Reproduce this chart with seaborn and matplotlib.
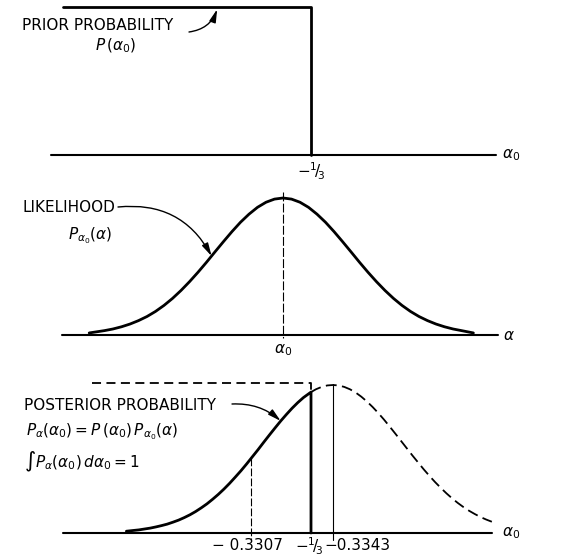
import matplotlib
matplotlib.use("Agg")
import matplotlib.pyplot as plt
import seaborn as sns

# prior probability P(a0): flat, cut off at a0 = -1/3
prior_a0 = [-0.3224, -1/3, -1/3]
prior_p = [1.0, 1.0, 0.0]
axis1_a0 = [-0.3219, -0.3415]

# likelihood P_a0(alpha), alpha measured from a0
lik_alpha = [-2.85, -2.625, -2.5, -2.375, -2.25, -2.125, -2.0, -1.875, -1.75, -1.625,
             -1.5, -1.375, -1.25, -1.125, -1.0, -0.875, -0.75, -0.625, -0.5, -0.375,
             -0.25, -0.125, 0.0, 0.125, 0.25, 0.375, 0.5, 0.625, 0.75, 0.875, 1.0,
             1.125, 1.25, 1.375, 1.5, 1.625, 1.75, 1.875, 2.0, 2.125, 2.25, 2.375,
             2.5, 2.625, 2.8]
lik_p = [0.015, 0.032, 0.044, 0.060, 0.080, 0.105, 0.135, 0.172, 0.216, 0.267,
         0.325, 0.389, 0.458, 0.531, 0.607, 0.682, 0.755, 0.823, 0.882, 0.932,
         0.969, 0.992, 1.0, 0.992, 0.969, 0.932, 0.882, 0.823, 0.755, 0.682, 0.607,
         0.531, 0.458, 0.389, 0.325, 0.267, 0.216, 0.172, 0.135, 0.105, 0.080, 0.060,
         0.044, 0.032, 0.015]
axis2_alpha = [-3.25, 3.16]

# posterior, solid part up to the cut at -1/3
post_a0 = [-0.3252, -0.3255, -0.32575, -0.3260, -0.32625, -0.3265, -0.32675, -0.3270,
           -0.32725, -0.3275, -0.32775, -0.3280, -0.32825, -0.3285, -0.32875, -0.3290,
           -0.32925, -0.3295, -0.32975, -0.3300, -0.33025, -0.3305, -0.33075, -0.3310,
           -0.33125, -0.3315, -0.33175, -0.3320, -0.33225, -0.3325, -0.33275, -0.3330,
           -1/3, -1/3]
post_p = [0.012, 0.017, 0.021, 0.027, 0.033, 0.041, 0.050, 0.060,
          0.073, 0.087, 0.104, 0.123, 0.145, 0.170, 0.197, 0.228,
          0.261, 0.297, 0.336, 0.378, 0.421, 0.467, 0.515, 0.563,
          0.613, 0.662, 0.710, 0.757, 0.801, 0.843, 0.881, 0.915,
          0.952, 0.0]
# dashed continuation beyond the cut
tail_a0 = [-1/3, -0.33355, -0.3338, -0.33405, -0.3343, -0.33455, -0.3348, -0.33505,
           -0.3353, -0.33555, -0.3358, -0.33605, -0.3363, -0.33655, -0.3368, -0.33705,
           -0.3373, -0.33755, -0.3378, -0.33805, -0.3383, -0.33855, -0.3388, -0.33905,
           -0.3393, -0.33955, -0.3398, -0.34005, -0.3403, -0.34055, -0.3408, -0.34105,
           -0.3413]
tail_p = [0.952, 0.971, 0.987, 0.997, 1.0, 0.997, 0.987, 0.971,
          0.949, 0.921, 0.888, 0.851, 0.810, 0.766, 0.719, 0.671,
          0.622, 0.573, 0.524, 0.477, 0.430, 0.386, 0.344, 0.305,
          0.268, 0.234, 0.203, 0.175, 0.150, 0.128, 0.108, 0.091,
          0.076]
# prior outline repeated (dashed) in the bottom panel
prior3_a0 = [-0.3237, -1/3, -1/3]
prior3_p = [1.013, 1.013, 0.952]
axis3_a0 = [-0.3224, -0.3413]

mark_lo = -0.3307
mark_cut = -1/3
mark_hi = -0.3343
tick_labels = ["\u2212 0.3307", r"$-{}^{1}\!/\!{}_{3}$", "\u22120.3343"]

sns.set_theme(style="white")
plt.rcParams["font.family"] = ["DejaVu Sans"]
plt.rcParams["font.size"] = 11
plt.rcParams["text.color"] = "black"

W, H = 581, 558
fig = plt.figure(figsize=(W / 100, H / 100), dpi=100)
fig.patch.set_facecolor("white")


def fx(px):
    return px / W


def fy(py):
    return 1 - py / H


def line(ax, x, y, lw=1.5, ls="-"):
    sns.lineplot(x=x, y=y, ax=ax, color="black", linewidth=lw, linestyle=ls,
                 estimator=None, sort=False)


def arrow(ax, tip, start, rad):
    ax.annotate("", xy=tip, xycoords="data", xytext=(fx(start[0]), fy(start[1])),
                textcoords="figure fraction",
                arrowprops=dict(arrowstyle="-|>,head_length=0.7,head_width=0.18",
                                color="black", lw=1.0, shrinkA=0, shrinkB=0,
                                connectionstyle=f"arc3,rad={rad}"))


a0_lim = (-1/3 + 311 / 22700, -1/3 - 270 / 22700)

# top panel: prior
ax1 = fig.add_axes([0, 1 - 180 / H, 1, 180 / H])
line(ax1, axis1_a0, [0, 0], lw=1.5)
line(ax1, prior_a0, prior_p, lw=2.0)
ax1.set_xlim(*a0_lim)
ax1.set_ylim(-25 / 148, 155 / 148)
arrow(ax1, (-0.3292, 0.985), (189, 32), 0.3)

# middle panel: likelihood
ax2 = fig.add_axes([0, 1 - 380 / H, 1, 200 / H])
line(ax2, axis2_alpha, [0, 0], lw=1.5)
line(ax2, lik_alpha, lik_p, lw=2.0)
line(ax2, [0, 0], [1.044, -0.02], lw=0.8, ls=(0, (8, 2)))
ax2.set_xlim(-283 / 68, 298 / 68)
ax2.set_ylim(-45 / 137, 155 / 137)
arrow(ax2, (-1.05, 0.576), (118, 207), -0.33)

# bottom panel: posterior
ax3 = fig.add_axes([0, 0, 1, 178 / H])
line(ax3, axis3_a0, [0, 0], lw=1.5)
line(ax3, prior3_a0, prior3_p, lw=1.3, ls=(0, (5, 3)))
line(ax3, tail_a0, tail_p, lw=1.3, ls=(0, (6, 3)))
line(ax3, post_a0, post_p, lw=2.0)
line(ax3, [mark_hi, mark_hi], [1.01, -0.047], lw=0.8)
line(ax3, [mark_lo, mark_lo], [0.51, -0.047], lw=0.8, ls=(0, (7, 2)))
ax3.set_xlim(*a0_lim)
ax3.set_ylim(-25 / 148, 153 / 148)
arrow(ax3, (-0.3320, 0.757), (232, 404), -0.2)

for ax in (ax1, ax2, ax3):
    ax.axis("off")
    leg = ax.get_legend()
    if leg is not None:
        leg.remove()

# labels
fig.text(fx(22), fy(26), "PRIOR PROBABILITY", ha="left", va="center")
fig.text(fx(95), fy(46), r"$P\,(\alpha_0)$", ha="left", va="center")
fig.text(fx(311), fy(171), r"$-{}^{1}\!/\!{}_{3}$", ha="center", va="center")
fig.text(fx(502), fy(155), r"$\alpha_0$", ha="left", va="center")

fig.text(fx(22), fy(208), "LIKELIHOOD", ha="left", va="center")
fig.text(fx(68), fy(236), r"$P_{\alpha_0}(\alpha)$", ha="left", va="center")
fig.text(fx(283), fy(350), r"$\alpha_0$", ha="center", va="center")
fig.text(fx(503), fy(335), r"$\alpha$", ha="left", va="center")

fig.text(fx(24), fy(405), "POSTERIOR PROBABILITY", ha="left", va="center")
fig.text(fx(26), fy(432), r"$P_\alpha(\alpha_0) = P\,(\alpha_0)\,P_{\alpha_0}(\alpha)$",
         ha="left", va="center")
fig.text(fx(24), fy(462), r"$\int P_\alpha(\alpha_0)\,d\alpha_0 = 1$", ha="left", va="center")
fig.text(fx(502), fy(533), r"$\alpha_0$", ha="left", va="center")
for px, lab in zip([247, 309, 357], tick_labels):
    fig.text(fx(px), fy(546), lab, ha="center", va="center")

fig.savefig("out.png", dpi=100)
plt.close(fig)
